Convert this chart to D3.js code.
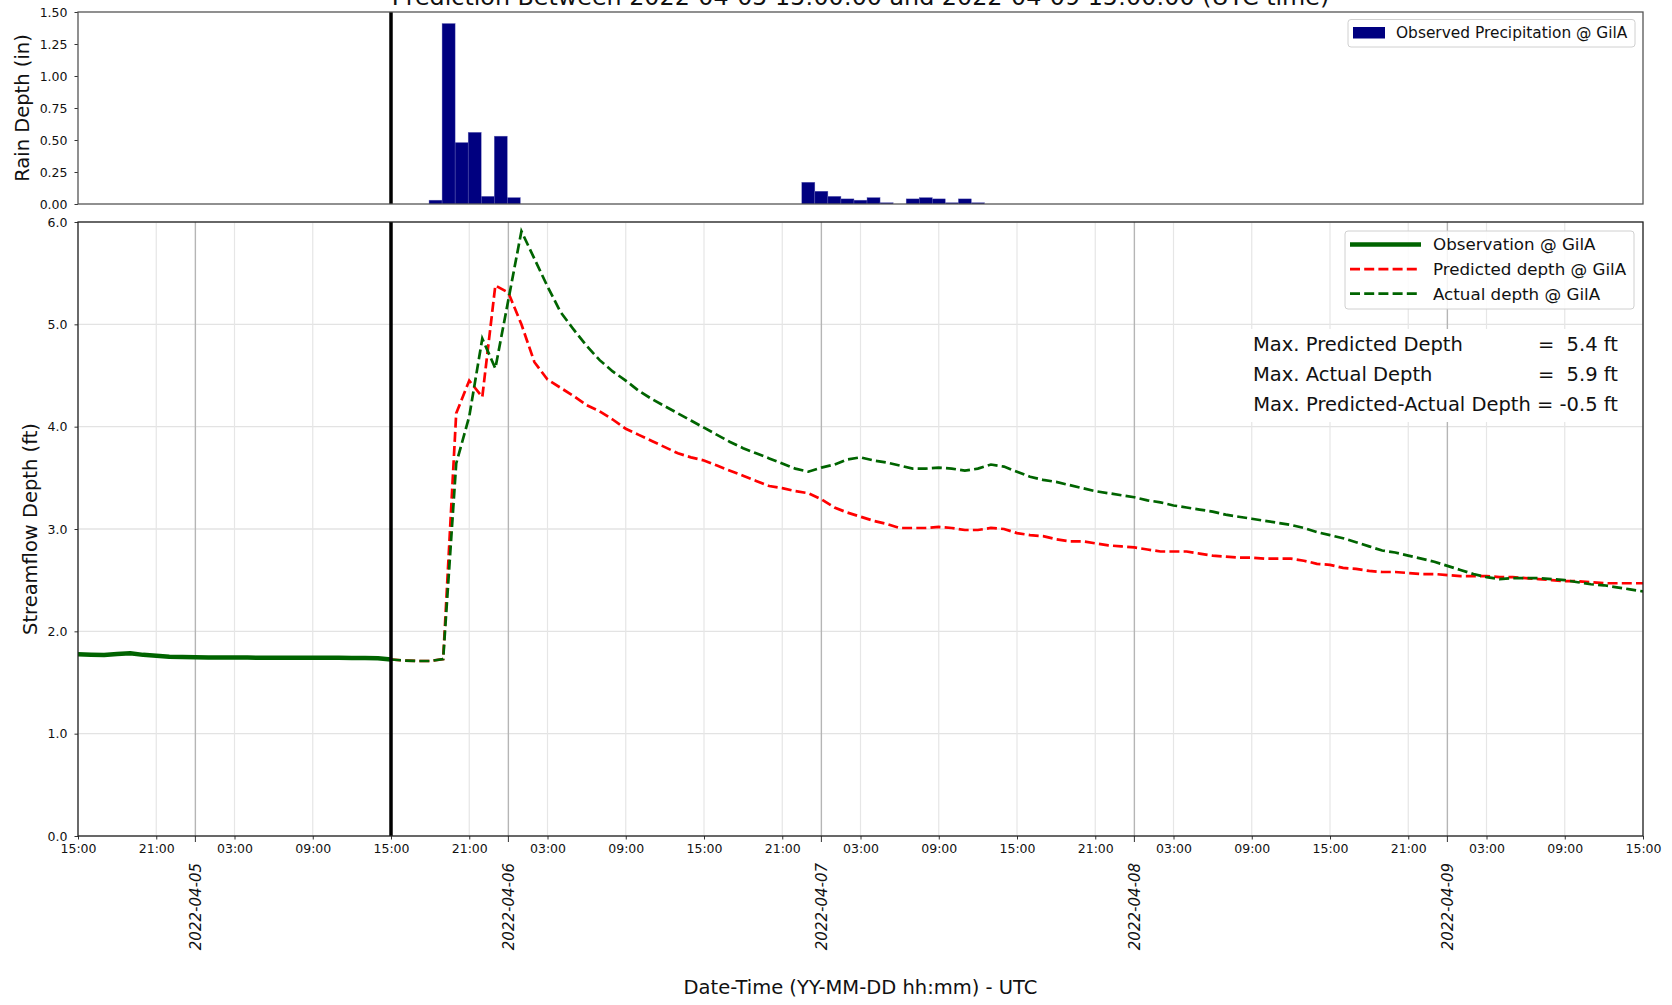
<!DOCTYPE html>
<html>
<head>
<meta charset="utf-8">
<script src="https://cdn.jsdelivr.net/npm/d3@7"></script>
<style>
  body { margin: 0; background: #fff; }
  svg { display: block; font-family: 'DejaVu Sans', sans-serif; }
</style>
</head>
<body>
<svg id="chart" width="1672" height="1005"></svg>
<script>
// rain gauge, one bar per hour (inches)
var rainTimes = [
  '2022-04-05T17:55Z', '2022-04-05T18:55Z', '2022-04-05T19:55Z', '2022-04-05T20:55Z',
  '2022-04-05T21:55Z', '2022-04-05T22:55Z', '2022-04-05T23:55Z',
  '2022-04-06T22:30Z', '2022-04-06T23:30Z', '2022-04-07T00:30Z', '2022-04-07T01:30Z',
  '2022-04-07T02:30Z', '2022-04-07T03:30Z', '2022-04-07T04:30Z', '2022-04-07T05:30Z',
  '2022-04-07T06:30Z', '2022-04-07T07:30Z', '2022-04-07T08:30Z', '2022-04-07T09:30Z',
  '2022-04-07T10:30Z', '2022-04-07T11:30Z'
];
var rainValues = [
  0.03, 1.41, 0.48, 0.56, 0.06, 0.53, 0.05,
  0.17, 0.10, 0.06, 0.04, 0.03, 0.05, 0.01, 0,
  0.04, 0.05, 0.04, 0.01, 0.04, 0.01
];

// observed stage, hourly from obsStart (ft)
var obsStart = '2022-04-04T15:00Z';
var obsValues = [
  1.775, 1.772, 1.768, 1.778, 1.785, 1.77, 1.762, 1.752, 1.748, 1.746,
  1.745, 1.745, 1.745, 1.744, 1.742, 1.742, 1.741, 1.741, 1.741, 1.741,
  1.741, 1.74, 1.74, 1.738, 1.725
];

// forecast window, hourly from forecastStart (ft)
var forecastStart = '2022-04-05T15:00Z';
var predictedValues = [
  1.725, 1.715, 1.71, 1.71, 1.73, 4.13, 4.45, 4.29, 5.38, 5.31,
  5.00, 4.63, 4.46, 4.38, 4.30, 4.21, 4.15, 4.07, 3.98, 3.92,
  3.86, 3.80, 3.74, 3.70, 3.67, 3.62, 3.57, 3.52, 3.47, 3.42,
  3.40, 3.37, 3.35, 3.29, 3.21, 3.16, 3.12, 3.08, 3.05, 3.01,
  3.01, 3.01, 3.02, 3.01, 2.99, 2.99, 3.01, 3.00, 2.96, 2.94,
  2.93, 2.90, 2.88, 2.88, 2.86, 2.84, 2.83, 2.82, 2.80, 2.78,
  2.78, 2.78, 2.76, 2.74, 2.73, 2.72, 2.72, 2.71, 2.71, 2.71,
  2.69, 2.66, 2.65, 2.62, 2.61, 2.59, 2.58, 2.58, 2.57, 2.56,
  2.56, 2.55, 2.54, 2.54, 2.54, 2.53, 2.53, 2.52, 2.51, 2.50,
  2.49, 2.49, 2.48, 2.47, 2.47, 2.47, 2.47
];
var actualValues = [
  1.725, 1.715, 1.71, 1.71, 1.73, 3.64, 4.10, 4.86, 4.57, 5.24,
  5.91, 5.64, 5.37, 5.12, 4.95, 4.79, 4.65, 4.54, 4.45, 4.35,
  4.27, 4.20, 4.13, 4.06, 3.99, 3.92, 3.85, 3.79, 3.74, 3.69,
  3.64, 3.59, 3.56, 3.60, 3.63, 3.68, 3.70, 3.67, 3.65, 3.62,
  3.59, 3.59, 3.60, 3.59, 3.57, 3.59, 3.63, 3.61, 3.56, 3.51,
  3.48, 3.46, 3.43, 3.40, 3.37, 3.35, 3.33, 3.31, 3.28, 3.26,
  3.23, 3.21, 3.19, 3.17, 3.14, 3.12, 3.10, 3.08, 3.06, 3.04,
  3.01, 2.97, 2.94, 2.91, 2.87, 2.83, 2.79, 2.77, 2.74, 2.71,
  2.68, 2.64, 2.60, 2.56, 2.53, 2.51, 2.52, 2.52, 2.52, 2.51,
  2.50, 2.48, 2.46, 2.45, 2.43, 2.41, 2.39
];

var windowStart = '2022-04-04T15:00Z';
var windowEnd = '2022-04-09T15:00Z';
var rainTicks = [0, 0.25, 0.5, 0.75, 1.0, 1.25, 1.5];
var depthTicks = [0, 1, 2, 3, 4, 5, 6];
var station = 'GilA';

var svg = d3.select('#chart');
var t0 = new Date(windowStart), t1 = new Date(windowEnd);
var tForecast = new Date(forecastStart);

// panel frames
var left = 78, right = 1643;
var rainTop = 12, rainBottom = 204;
var flowTop = 222, flowBottom = 836;

var x = d3.scaleUtc().domain([t0, t1]).range([left, right]);
var yRain = d3.scaleLinear().domain([0, 1.5]).range([rainBottom, rainTop]);
var yFlow = d3.scaleLinear().domain([0, 6]).range([flowBottom, flowTop]);

function hourly(start, values) {
  var s = new Date(start);
  return values.map(function (v, i) {
    return { t: d3.utcHour.offset(s, i), v: v };
  });
}
var obsData = hourly(obsStart, obsValues);
var predData = hourly(forecastStart, predictedValues);
var actData = hourly(forecastStart, actualValues);

var minorTicks = d3.utcHour.range(t0, new Date(+t1 + 60000), 6);
var majorTicks = d3.utcDay.range(d3.utcDay.ceil(t0), t1);

svg.append('defs').call(function (d) {
  d.append('clipPath').attr('id', 'clipRain').append('rect')
    .attr('x', left).attr('y', rainTop).attr('width', right - left).attr('height', rainBottom - rainTop);
  d.append('clipPath').attr('id', 'clipFlow').append('rect')
    .attr('x', left).attr('y', flowTop).attr('width', right - left).attr('height', flowBottom - flowTop);
});

// title, cut off at the top edge like the original
svg.append('text')
  .attr('x', (left + right) / 2)
  .attr('y', 5)
  .attr('text-anchor', 'middle')
  .style('font-size', '23.8px')
  .attr('fill', '#111')
  .text('Prediction Between 2022-04-05 15:00:00 and 2022-04-09 15:00:00 (UTC time)');

/* ---------- rain panel ---------- */
var rain = svg.append('g');

rain.append('g')
  .attr('clip-path', 'url(#clipRain)')
  .selectAll('rect')
  .data(rainTimes.map(function (t, i) { return { t: new Date(t), v: rainValues[i] }; }))
  .enter()
  .append('rect')
  .attr('x', function (d) { return x(d.t); })
  .attr('width', function (d) { return x(d3.utcHour.offset(d.t, 1)) - x(d.t); })
  .attr('y', function (d) { return yRain(d.v); })
  .attr('height', function (d) { return yRain(0) - yRain(d.v); })
  .attr('fill', '#000080')
  .attr('stroke', '#6a6ab8')
  .attr('stroke-width', 0.4);

rain.append('line')
  .attr('x1', x(tForecast)).attr('x2', x(tForecast))
  .attr('y1', rainTop).attr('y2', rainBottom)
  .attr('stroke', '#000').attr('stroke-width', 3.5);

rain.append('g')
  .attr('transform', 'translate(' + left + ',0)')
  .call(d3.axisLeft(yRain).tickValues(rainTicks).tickFormat(d3.format('.2f')).tickSize(3.5).tickPadding(7))
  .call(function (g) {
    g.select('.domain').remove();
    g.selectAll('text').style('font-size', '12.5px').style('font-family', 'DejaVu Sans').attr('fill', '#111');
    g.selectAll('line').attr('stroke', '#333');
  });

rain.append('rect')
  .attr('x', left).attr('y', rainTop)
  .attr('width', right - left).attr('height', rainBottom - rainTop)
  .attr('fill', 'none').attr('stroke', '#555').attr('stroke-width', 1.3);

rain.append('text')
  .attr('transform', 'translate(22,' + (rainTop + rainBottom) / 2 + ') rotate(-90)')
  .attr('text-anchor', 'middle')
  .attr('dy', '0.35em')
  .style('font-size', '19.5px')
  .attr('fill', '#111')
  .text('Rain Depth (in)');

// rain legend
var rl = rain.append('g');
rl.append('rect')
  .attr('x', 1348).attr('y', 19.5).attr('width', 287).attr('height', 27.5)
  .attr('rx', 3).attr('fill', '#fff').attr('fill-opacity', 0.8)
  .attr('stroke', '#d0d0d0');
rl.append('rect')
  .attr('x', 1353).attr('y', 27).attr('width', 32).attr('height', 11.5)
  .attr('fill', '#000080');
rl.append('text')
  .attr('x', 1396).attr('y', 32.8).attr('dy', '0.35em')
  .style('font-size', '15.4px').attr('fill', '#111')
  .text('Observed Precipitation @ ' + station);

/* ---------- streamflow panel ---------- */
var flow = svg.append('g');

// grid
flow.append('g').selectAll('line')
  .data(depthTicks)
  .enter()
  .append('line')
  .attr('x1', left).attr('x2', right)
  .attr('y1', function (d) { return yFlow(d); })
  .attr('y2', function (d) { return yFlow(d); })
  .attr('stroke', '#e3e3e3').attr('stroke-width', 1.4);

flow.append('g').selectAll('line')
  .data(minorTicks)
  .enter()
  .append('line')
  .attr('x1', function (d) { return x(d); })
  .attr('x2', function (d) { return x(d); })
  .attr('y1', flowTop).attr('y2', flowBottom)
  .attr('stroke', '#e6e6e6').attr('stroke-width', 1.2);

flow.append('g').selectAll('line')
  .data(majorTicks)
  .enter()
  .append('line')
  .attr('x1', function (d) { return x(d); })
  .attr('x2', function (d) { return x(d); })
  .attr('y1', flowTop).attr('y2', flowBottom)
  .attr('stroke', '#b5b5b5').attr('stroke-width', 1.4);

// series
var line = d3.line()
  .x(function (d) { return x(d.t); })
  .y(function (d) { return yFlow(d.v); });

var plot = flow.append('g').attr('clip-path', 'url(#clipFlow)');

plot.append('path')
  .datum(obsData)
  .attr('d', line)
  .attr('fill', 'none')
  .attr('stroke', '#006400')
  .attr('stroke-width', 4.5)
  .attr('stroke-linejoin', 'round');

plot.append('path')
  .datum(predData)
  .attr('d', line)
  .attr('fill', 'none')
  .attr('stroke', '#ff0000')
  .attr('stroke-width', 2.7)
  .attr('stroke-dasharray', '10,4.2');

plot.append('path')
  .datum(actData)
  .attr('d', line)
  .attr('fill', 'none')
  .attr('stroke', '#006400')
  .attr('stroke-width', 2.7)
  .attr('stroke-dasharray', '10,4.2');

plot.append('line')
  .attr('x1', x(tForecast)).attr('x2', x(tForecast))
  .attr('y1', flowTop).attr('y2', flowBottom)
  .attr('stroke', '#000').attr('stroke-width', 3.5);

// axes
flow.append('g')
  .attr('transform', 'translate(' + left + ',0)')
  .call(d3.axisLeft(yFlow).tickValues(depthTicks).tickFormat(d3.format('.1f')).tickSize(3.5).tickPadding(7))
  .call(function (g) {
    g.select('.domain').remove();
    g.selectAll('text').style('font-size', '12.5px').style('font-family', 'DejaVu Sans').attr('fill', '#111');
    g.selectAll('line').attr('stroke', '#333');
  });

flow.append('g')
  .attr('transform', 'translate(0,' + flowBottom + ')')
  .call(d3.axisBottom(x).tickValues(minorTicks).tickFormat(d3.utcFormat('%H:%M')).tickSize(3.5).tickPadding(4.5))
  .call(function (g) {
    g.select('.domain').remove();
    g.selectAll('text').style('font-size', '12.5px').style('font-family', 'DejaVu Sans').attr('fill', '#111');
    g.selectAll('line').attr('stroke', '#333');
  });

// midnight ticks with rotated date labels
var major = flow.append('g').selectAll('g')
  .data(majorTicks)
  .enter()
  .append('g')
  .attr('transform', function (d) { return 'translate(' + x(d) + ',' + flowBottom + ')'; });
major.append('line')
  .attr('y2', 6).attr('stroke', '#333').attr('stroke-width', 1);
major.append('text')
  .attr('transform', 'translate(0,27) rotate(-90)')
  .attr('text-anchor', 'end')
  .attr('dy', '0.36em')
  .style('font-size', '15px')
  .style('font-style', 'italic')
  .attr('fill', '#111')
  .text(d3.utcFormat('%Y-%m-%d'));

flow.append('rect')
  .attr('x', left).attr('y', flowTop)
  .attr('width', right - left).attr('height', flowBottom - flowTop)
  .attr('fill', 'none').attr('stroke', '#222').attr('stroke-width', 1.3);

flow.append('text')
  .attr('transform', 'translate(30,' + (flowTop + flowBottom) / 2 + ') rotate(-90)')
  .attr('text-anchor', 'middle')
  .attr('dy', '0.35em')
  .style('font-size', '19.5px')
  .attr('fill', '#111')
  .text('Streamflow Depth (ft)');

svg.append('text')
  .attr('x', (left + right) / 2)
  .attr('y', 994)
  .attr('text-anchor', 'middle')
  .style('font-size', '19.5px')
  .attr('fill', '#111')
  .text('Date-Time (YY-MM-DD hh:mm) - UTC');

// flow legend
var legendItems = [
  { label: 'Observation @ ' + station, color: '#006400', width: 4.5, dash: null },
  { label: 'Predicted depth @ ' + station, color: '#ff0000', width: 2.7, dash: '10,4.2' },
  { label: 'Actual depth @ ' + station, color: '#006400', width: 2.7, dash: '10,4.2' }
];
var fl = flow.append('g');
fl.append('rect')
  .attr('x', 1345).attr('y', 231).attr('width', 289).attr('height', 78)
  .attr('rx', 3).attr('fill', '#fff').attr('fill-opacity', 0.85)
  .attr('stroke', '#d0d0d0');
var item = fl.selectAll('g.item')
  .data(legendItems)
  .enter()
  .append('g')
  .attr('class', 'item')
  .attr('transform', function (d, i) { return 'translate(1350,' + (244.5 + i * 24.6) + ')'; });
item.append('line')
  .attr('x1', 0).attr('x2', 71)
  .attr('stroke', function (d) { return d.color; })
  .attr('stroke-width', function (d) { return d.width; })
  .attr('stroke-dasharray', function (d) { return d.dash; });
item.append('text')
  .attr('x', 83).attr('dy', '0.35em')
  .style('font-size', '16.7px').attr('fill', '#111')
  .text(function (d) { return d.label; });

// summary box
var maxPred = d3.max(predictedValues);
var maxAct = d3.max(actualValues);
var stats = flow.append('g');
stats.append('rect')
  .attr('x', 1249).attr('y', 329).attr('width', 373).attr('height', 93)
  .attr('fill', '#fff');
var rows = [
  ['Max. Predicted Depth', '=  ' + maxPred.toFixed(1) + ' ft'],
  ['Max. Actual Depth', '=  ' + maxAct.toFixed(1) + ' ft'],
  ['', 'Max. Predicted-Actual Depth = ' + (maxPred - maxAct).toFixed(1) + ' ft']
];
rows.forEach(function (r, i) {
  var yy = 344 + i * 30;
  stats.append('text')
    .attr('x', 1253).attr('y', yy).attr('dy', '0.35em')
    .style('font-size', '19.5px').attr('fill', '#111')
    .text(r[0]);
  stats.append('text')
    .attr('x', 1618).attr('y', yy).attr('dy', '0.35em')
    .attr('text-anchor', 'end')
    .style('font-size', '19.5px').style('white-space', 'pre').attr('fill', '#111')
    .text(r[1]);
});
</script>
</body>
</html>
